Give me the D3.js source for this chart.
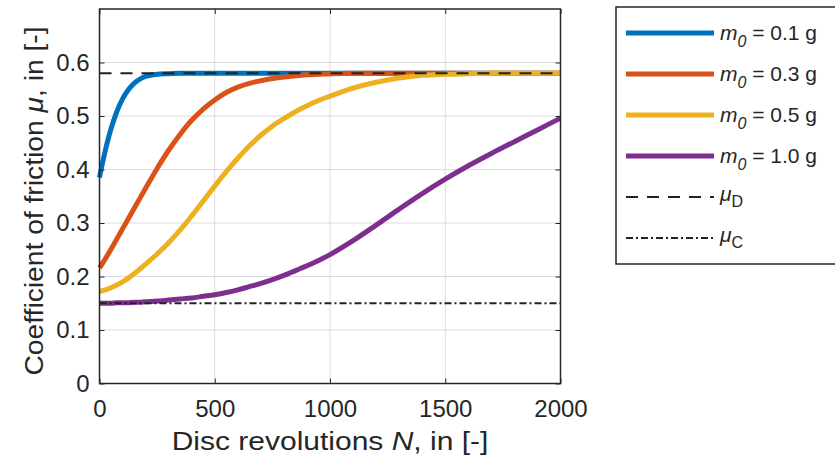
<!DOCTYPE html>
<html>
<head>
<meta charset="utf-8">
<script src="https://cdn.jsdelivr.net/npm/d3@7"></script>
<style>
  html, body { margin: 0; padding: 0; background: #fff; }
  svg { display: block; font-family: "Liberation Sans", Arial, Helvetica, sans-serif; }
</style>
</head>
<body>
<svg id="chart" width="835" height="463"></svg>
<script>
// Disc revolutions at which the friction coefficient was evaluated
const revolutions = [0, 25, 50, 75, 100, 125, 150, 175, 200, 250, 300, 350, 400, 450, 500,
  550, 600, 650, 700, 750, 800, 850, 900, 950, 1000, 1100, 1200, 1300, 1400, 1500,
  1600, 1700, 1800, 1900, 2000];

// Coefficient of friction for each initial mass m0
const muM01 = [0.385, 0.435, 0.476, 0.508, 0.532, 0.549, 0.561, 0.569, 0.574, 0.578, 0.579, 0.58, 0.58, 0.58, 0.58,
  0.58, 0.58, 0.58, 0.58, 0.58, 0.58, 0.58, 0.58, 0.58, 0.58, 0.58, 0.58, 0.58, 0.58, 0.58,
  0.58, 0.58, 0.58, 0.58, 0.58];
const muM03 = [0.216, 0.233, 0.251, 0.270, 0.289, 0.308, 0.327, 0.346, 0.365, 0.402, 0.436, 0.466, 0.492, 0.513, 0.530,
  0.544, 0.554, 0.561, 0.566, 0.570, 0.573, 0.575, 0.577, 0.578, 0.579, 0.58, 0.58, 0.58, 0.58, 0.58,
  0.58, 0.58, 0.58, 0.58, 0.58];
const muM05 = [0.172, 0.175, 0.179, 0.184, 0.190, 0.197, 0.205, 0.214, 0.223, 0.242, 0.263, 0.287, 0.313, 0.341, 0.369,
  0.396, 0.421, 0.444, 0.464, 0.481, 0.495, 0.508, 0.519, 0.529, 0.537, 0.552, 0.563, 0.571, 0.576, 0.578,
  0.579, 0.58, 0.58, 0.58, 0.58];
const muM10 = [0.150, 0.150, 0.150, 0.151, 0.151, 0.151, 0.152, 0.152, 0.153, 0.154, 0.156, 0.158, 0.160, 0.163, 0.166,
  0.170, 0.175, 0.181, 0.187, 0.194, 0.202, 0.211, 0.220, 0.230, 0.241, 0.267, 0.296, 0.326, 0.355, 0.382,
  0.407, 0.430, 0.452, 0.474, 0.496];

// Reference levels
const muD = 0.58;
const muC = 0.15;

const massLabels = ["0.1", "0.3", "0.5", "1.0"];
const seriesColors = ["#0072BD", "#D95319", "#EDB120", "#7E2F8E"];
const xTicks = [0, 500, 1000, 1500, 2000];
const yTicks = [0, 0.1, 0.2, 0.3, 0.4, 0.5, 0.6];

const seriesValues = [muM01, muM03, muM05, muM10];

const svg = d3.select("#chart");
const plot = { left: 99.5, right: 560.5, top: 9, bottom: 383.5 };
const axisColor = "#262626";
const dashD = "12,9";
const dashC = "7,3,2,3";

const x = d3.scaleLinear().domain([0, 2000]).range([plot.left, plot.right]);
const y = d3.scaleLinear().domain([0, 0.7]).range([plot.bottom, plot.top]);

// grid
const grid = svg.append("g");
grid.selectAll("line.gx").data(xTicks).join("line")
  .attr("x1", d => x(d)).attr("x2", d => x(d))
  .attr("y1", plot.top).attr("y2", plot.bottom)
  .attr("stroke", "#dcdcdc").attr("stroke-width", 1);
grid.selectAll("line.gy").data(yTicks).join("line")
  .attr("x1", plot.left).attr("x2", plot.right)
  .attr("y1", d => y(d)).attr("y2", d => y(d))
  .attr("stroke", "#dcdcdc").attr("stroke-width", 1);

// curves
const line = d3.line()
  .x(d => x(d[0]))
  .y(d => y(d[1]))
  .curve(d3.curveCatmullRom.alpha(0.5));

const curves = svg.append("g");
seriesValues.forEach((vals, i) => {
  const pts = revolutions.map((n, k) => [n, vals[k]]);
  curves.append("path")
    .attr("d", line(pts))
    .attr("fill", "none")
    .attr("stroke", seriesColors[i])
    .attr("stroke-width", 5)
    .attr("stroke-linejoin", "round");
});

// reference lines
svg.append("line")
  .attr("x1", x(0)).attr("x2", x(2000))
  .attr("y1", y(muD)).attr("y2", y(muD))
  .attr("stroke", "#222").attr("stroke-width", 2)
  .attr("stroke-dasharray", dashD);
svg.append("line")
  .attr("x1", x(0)).attr("x2", x(2000))
  .attr("y1", y(muC)).attr("y2", y(muC))
  .attr("stroke", "#222").attr("stroke-width", 2)
  .attr("stroke-dasharray", dashC);

// axes box with inward ticks
const xAxisB = d3.axisBottom(x).tickValues(xTicks).tickSizeInner(-5).tickSizeOuter(0).tickPadding(16)
  .tickFormat(d3.format("d"));
const yAxisL = d3.axisLeft(y).tickValues(yTicks).tickSizeInner(-5).tickSizeOuter(0).tickPadding(10)
  .tickFormat(d => d === 0 ? "0" : d3.format(".1f")(d));
const xAxisT = d3.axisTop(x).tickValues(xTicks).tickSizeInner(-5).tickSizeOuter(0).tickFormat("");
const yAxisR = d3.axisRight(y).tickValues(yTicks).tickSizeInner(-5).tickSizeOuter(0).tickFormat("");

function styleAxis(g) {
  g.select(".domain").remove();
  g.selectAll(".tick line").attr("stroke", axisColor).attr("stroke-width", 1);
  g.selectAll(".tick text").attr("fill", axisColor).attr("font-size", 24)
    .attr("font-family", "'Liberation Sans', Arial, sans-serif");
}
svg.append("g").attr("transform", `translate(0,${plot.bottom})`).call(xAxisB).call(styleAxis);
svg.append("g").attr("transform", `translate(${plot.left},0)`).call(yAxisL).call(styleAxis);
svg.append("g").attr("transform", `translate(0,${plot.top})`).call(xAxisT).call(styleAxis);
svg.append("g").attr("transform", `translate(${plot.right},0)`).call(yAxisR).call(styleAxis);

svg.append("rect")
  .attr("x", plot.left).attr("y", plot.top)
  .attr("width", plot.right - plot.left).attr("height", plot.bottom - plot.top)
  .attr("fill", "none").attr("stroke", axisColor).attr("stroke-width", 1.5);

// axis labels (slightly widened lettering)
const xl = svg.append("text")
  .attr("transform", `translate(${(plot.left + plot.right) / 2},450) scale(1.2,1)`)
  .attr("text-anchor", "middle").attr("font-size", 25).attr("fill", axisColor);
xl.append("tspan").text("Disc revolutions ");
xl.append("tspan").attr("font-style", "italic").text("N");
xl.append("tspan").text(", in [-]");

const yl = svg.append("text")
  .attr("transform", "translate(43,201) rotate(-90) scale(1.13,1)")
  .attr("text-anchor", "middle").attr("font-size", 25).attr("fill", axisColor);
yl.append("tspan").text("Coefficient of friction ");
yl.append("tspan").attr("font-style", "italic").text("μ");
yl.append("tspan").text(", in [-]");

// legend
const legend = svg.append("g");
legend.append("rect")
  .attr("x", 616).attr("y", 7).attr("width", 240).attr("height", 257)
  .attr("fill", "#fff").attr("stroke", axisColor).attr("stroke-width", 1.5);

const rowY = i => 33 + i * 41;
const legendRows = massLabels.map((m, i) => ({ m, color: seriesColors[i] }));

legendRows.forEach((r, i) => {
  const yy = rowY(i);
  legend.append("line")
    .attr("x1", 626).attr("x2", 714).attr("y1", yy).attr("y2", yy)
    .attr("stroke", r.color).attr("stroke-width", 5);
  const t = legend.append("text")
    .attr("x", 720).attr("y", yy + 7).attr("font-size", 21).attr("fill", axisColor);
  t.append("tspan").attr("font-style", "italic").text("m");
  t.append("tspan").attr("font-style", "italic").attr("font-size", 16).attr("dy", 7).text("0");
  t.append("tspan").attr("dy", -7).text(` = ${r.m} g`);
});

[["D", dashD], ["C", dashC]].forEach(([sub, dash], j) => {
  const yy = rowY(4 + j);
  legend.append("line")
    .attr("x1", 626).attr("x2", 714).attr("y1", yy).attr("y2", yy)
    .attr("stroke", "#222").attr("stroke-width", 2).attr("stroke-dasharray", dash);
  const t = legend.append("text")
    .attr("x", 720).attr("y", yy + 4).attr("font-size", 21).attr("fill", axisColor);
  t.append("tspan").attr("font-style", "italic").text("μ");
  t.append("tspan").attr("font-size", 16).attr("dy", 6).text(sub);
});
</script>
</body>
</html>
